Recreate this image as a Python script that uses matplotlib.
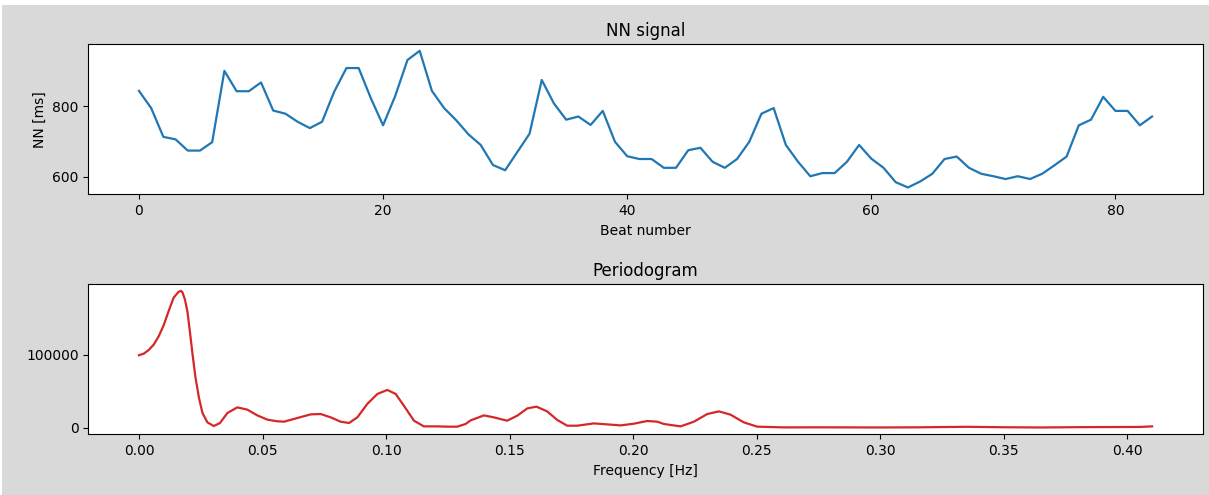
import matplotlib
matplotlib.use("Agg")
import matplotlib.pyplot as plt
from matplotlib.patches import Rectangle

# --- NN signal (ms) per beat ---
nn_ms = [844, 795, 713, 706, 674, 674, 698, 901, 843, 843,
         868, 788, 779, 756, 738, 756, 842, 909, 909, 823,
         746, 830, 932, 958, 844, 795, 760, 720, 690, 633,
         618, 670, 722, 875, 808, 762, 771, 747, 787, 699,
         658, 650, 650, 625, 625, 675, 682, 642, 625, 650,
         699, 779, 795, 690, 642, 601, 610, 610, 642, 690,
         651, 625, 584, 569, 586, 608, 650, 657, 625, 608,
         601, 593, 601, 593, 608, 632, 657, 746, 762, 827,
         787, 787, 746, 771]
beat_number = list(range(len(nn_ms)))

# --- Periodogram ---
freq_hz = [0.000, 0.002, 0.004, 0.006, 0.008, 0.010, 0.012, 0.014, 0.016, 0.017,
           0.0176, 0.0186, 0.0196, 0.0206, 0.0217, 0.0229, 0.0243, 0.0257, 0.0277, 0.0303,
           0.0328, 0.0358, 0.0398, 0.0439, 0.0479, 0.052, 0.056, 0.0587, 0.0641, 0.0695,
           0.0735, 0.0776, 0.0816, 0.085, 0.0884, 0.0924, 0.0965, 0.1005, 0.1039, 0.1072,
           0.1113, 0.1153, 0.1207, 0.1248, 0.1288, 0.1322, 0.1342, 0.1396, 0.1436, 0.149,
           0.1531, 0.1572, 0.1609, 0.1652, 0.1693, 0.1733, 0.1774, 0.1841, 0.1895, 0.1949,
           0.2003, 0.2057, 0.2098, 0.2124, 0.2192, 0.2246, 0.230, 0.2347, 0.2394, 0.2448,
           0.2502, 0.261, 0.2745, 0.288, 0.300, 0.315, 0.335, 0.350, 0.365, 0.380,
           0.395, 0.405, 0.410]
power = [99500, 101800, 106900, 114200, 125600, 140700, 160000, 178400, 186500, 188000,
         186000, 176100, 160000, 132500, 100400, 68400, 40850, 20200, 7300, 2300,
         6450, 20200, 27900, 24750, 16900, 11000, 8800, 8250, 13300, 18300,
         18800, 14200, 8250, 6450, 14200, 32600, 46350, 51850, 46350, 30300,
         9600, 1800, 1800, 1400, 1400, 5100, 10000, 16900, 14200, 9600,
         16500, 26550, 28900, 22400, 10600, 2750, 2750, 5900, 4550, 3150,
         5500, 9200, 8250, 5100, 1800, 8250, 18800, 22400, 17900, 7300,
         1400, 400, 500, 400, 300, 500, 1200, 600, 300, 700,
         900, 1000, 1800]

nn_yticks = [600, 800]
nn_xticks = [0, 20, 40, 60, 80]
pg_yticks = [0, 100000]
pg_xticks = [0.00, 0.05, 0.10, 0.15, 0.20, 0.25, 0.30, 0.35, 0.40]

W, H = 1209, 495
fig = plt.figure(figsize=(W / 100, H / 100), dpi=100, facecolor="#d9d9d9")

# white screenshot border strips (top and left)
fig.patches.append(Rectangle((0, 1 - 5 / H), 1, 5 / H, transform=fig.transFigure,
                             facecolor="white", edgecolor="none", zorder=-1))
fig.patches.append(Rectangle((0, 0), 2 / W, 1, transform=fig.transFigure,
                             facecolor="white", edgecolor="none", zorder=-1))

left = 88.3 / W
width = (1202.7 - 88.3) / W
ax1 = fig.add_axes([left, 1 - 194.3 / H, width, (194.3 - 44) / H])
ax2 = fig.add_axes([left, 1 - 434.3 / H, width, (434.3 - 284) / H])

ax1.plot(beat_number, nn_ms, color="#1f77b4", lw=1.6)
ax1.set_title("NN signal", fontsize=12)
ax1.set_xlabel("Beat number", fontsize=10)
ax1.set_ylabel("NN [ms]", fontsize=10)
ax1.set_xticks(nn_xticks)
ax1.set_yticks(nn_yticks)

ax2.plot(freq_hz, power, color="#d62728", lw=1.6)
ax2.set_title("Periodogram", fontsize=12)
ax2.set_xlabel("Frequency [Hz]", fontsize=10)
ax2.set_xticks(pg_xticks)
ax2.set_yticks(pg_yticks)

fig.savefig("out.png", dpi=100, facecolor=fig.get_facecolor())
